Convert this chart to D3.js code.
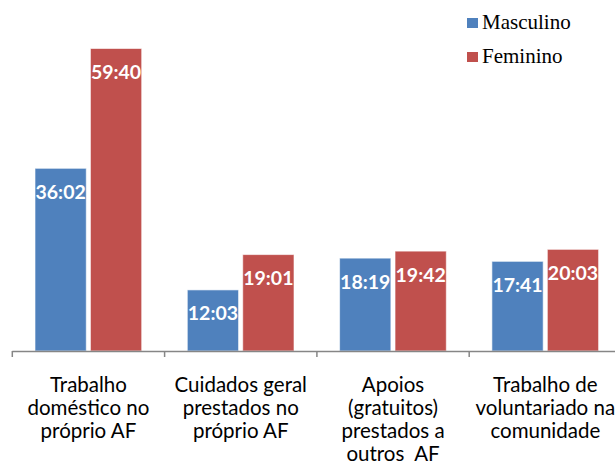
<!DOCTYPE html>
<html>
<head>
<meta charset="utf-8">
<script src="https://cdn.jsdelivr.net/npm/d3@7"></script>
<style>
  body { margin: 0; background: #fff; }
  .catLabel { font-family: Lato, "Open Sans", sans-serif; font-size: 20.5px; fill: #000; white-space: pre; }
  .valLabel { font-family: Lato, "Open Sans", sans-serif; font-size: 19.5px; font-weight: bold; fill: #fff; }
  .legendText { font-family: "Liberation Serif", "DejaVu Serif", serif; font-size: 21px; fill: #000; }
</style>
</head>
<body>
<div id="chart"></div>
<script>
// categories, one entry per line of the label
var categories = [
    ["Trabalho", "doméstico no", "próprio AF"],
    ["Cuidados geral", "prestados no", "próprio AF"],
    ["Apoios", "(gratuitos)", "prestados a", "outros  AF"],
    ["Trabalho de", "voluntariado na", "comunidade"]
];
var series = ["Masculino", "Feminino"];
var colors = ["#4F81BD", "#C0504D"];
// hours:minutes per week
var masculino = ["36:02", "12:03", "18:19", "17:41"];
var feminino = ["59:40", "19:01", "19:42", "20:03"];

function toHours(s) {
    var p = s.split(":");
    return +p[0] + (+p[1]) / 60;
}

var width = 615, height = 464;
var baseY = 351;

var svg = d3.select("#chart").append("svg")
    .attr("width", width)
    .attr("height", height);

var catKeys = categories.map(function(c, i) { return i; });

// the plot runs past the right edge of the picture
var x0 = d3.scaleBand()
    .domain(catKeys)
    .range([12.3, 621.5])
    .padding(0);

var x1 = d3.scaleBand()
    .domain(series)
    .range([22.7, 129.4])
    .paddingInner(0.075);

var y = d3.scaleLinear()
    .domain([0, 60])
    .range([baseY, baseY - 304.2]);

var data = [];
catKeys.forEach(function(i) {
    data.push({cat: i, s: "Masculino", label: masculino[i], v: toHours(masculino[i])});
    data.push({cat: i, s: "Feminino", label: feminino[i], v: toHours(feminino[i])});
});

var colorOf = d3.scaleOrdinal().domain(series).range(colors);

// bars
svg.selectAll("rect.bar")
    .data(data)
    .enter()
    .append("rect")
    .attr("class", "bar")
    .attr("x", function(d) { return x0(d.cat) + x1(d.s); })
    .attr("y", function(d) { return y(d.v); })
    .attr("width", x1.bandwidth())
    .attr("height", function(d) { return baseY - y(d.v); })
    .style("fill", function(d) { return colorOf(d.s); })
    .style("stroke", "#ffffff")
    .style("stroke-opacity", 0.6)
    .style("stroke-width", 1);

// value labels inside the bars
svg.selectAll("text.valLabel")
    .data(data)
    .enter()
    .append("text")
    .attr("class", "valLabel")
    .attr("x", function(d) { return x0(d.cat) + x1(d.s) + x1.bandwidth() / 2; })
    .attr("y", function(d) { return y(d.v) + 30.5; })
    .attr("text-anchor", "middle")
    .text(function(d) { return d.label; });

// category axis
svg.append("line")
    .attr("x1", x0.range()[0])
    .attr("x2", width)
    .attr("y1", baseY + 0.5)
    .attr("y2", baseY + 0.5)
    .style("stroke", "#868686")
    .style("stroke-width", 1.5);

svg.selectAll("line.tick")
    .data(catKeys)
    .enter()
    .append("line")
    .attr("class", "tick")
    .attr("x1", function(d) { return x0(d); })
    .attr("x2", function(d) { return x0(d); })
    .attr("y1", baseY)
    .attr("y2", baseY + 6)
    .style("stroke", "#868686")
    .style("stroke-width", 1.5);

var catText = svg.selectAll("text.catLabel")
    .data(catKeys)
    .enter()
    .append("text")
    .attr("class", "catLabel")
    .attr("text-anchor", "middle")
    .attr("x", function(d) { return x0(d) + x0.bandwidth() / 2; })
    .attr("y", 391.5);

catText.selectAll("tspan")
    .data(function(d) { return categories[d]; })
    .enter()
    .append("tspan")
    .attr("x", function() { return d3.select(this.parentNode).attr("x"); })
    .attr("dy", function(d, i) { return i === 0 ? 0 : 23.3; })
    .text(function(d) { return d; });

// legend
var legend = svg.selectAll("g.legend")
    .data(series)
    .enter()
    .append("g")
    .attr("class", "legend")
    .attr("transform", function(d, i) { return "translate(467," + (18 + i * 34) + ")"; });

legend.append("rect")
    .attr("width", 11)
    .attr("height", 10)
    .style("fill", function(d) { return colorOf(d); });

legend.append("text")
    .attr("class", "legendText")
    .attr("x", 15)
    .attr("y", 11.3)
    .text(function(d) { return d; });
</script>
</body>
</html>
